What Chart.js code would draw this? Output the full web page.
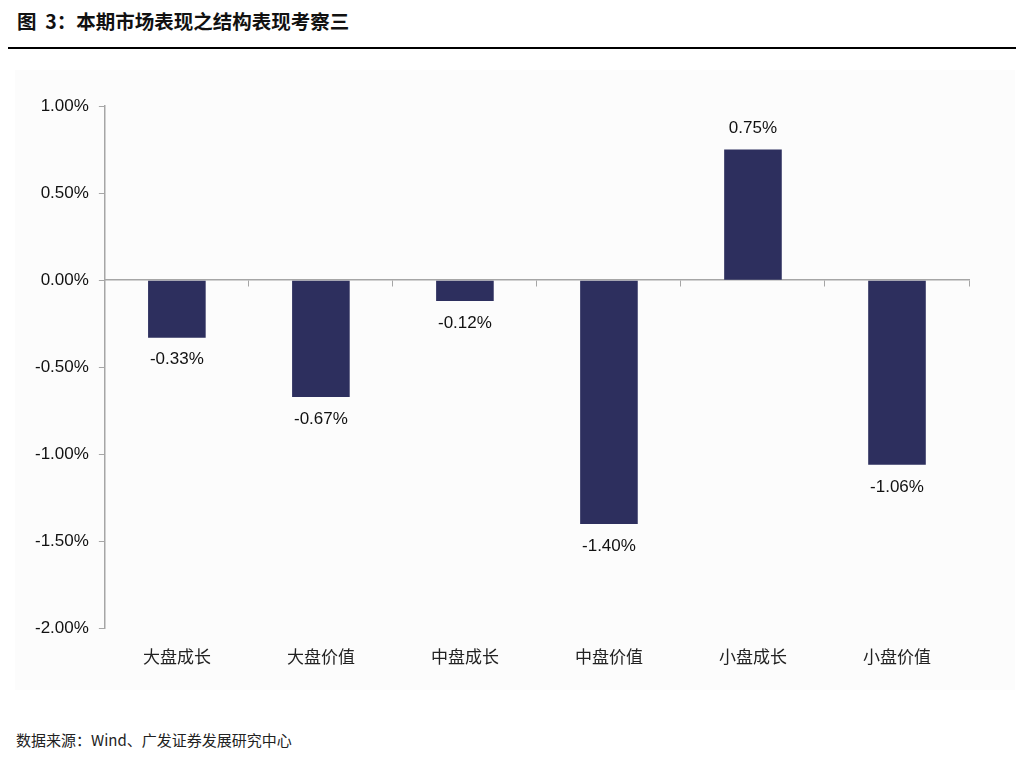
<!DOCTYPE html>
<html lang="zh-CN">
<head>
    <meta charset="UTF-8">
    <title>本期市场表现之结构表现考察三</title>
    <script src="https://cdn.jsdelivr.net/npm/chart.js"></script>
    <style>
        body {
            margin: 0;
            width: 1026px;
            height: 759px;
            background: #fff;
            font-family: "Liberation Sans", "Noto Sans CJK SC", sans-serif;
            position: relative;
            overflow: hidden;
        }
        #title {
            position: absolute;
            left: 17px;
            top: 6px;
            font-size: 19.5px;
            font-weight: bold;
            color: #111;
            font-family: "Noto Sans CJK SC", sans-serif;
        }
        #rule {
            position: absolute;
            left: 8px;
            top: 47px;
            width: 1008px;
            height: 2px;
            background: #000;
        }
        #panel {
            position: absolute;
            left: 15px;
            top: 70px;
            width: 1000px;
            height: 620px;
            background: #fcfcfc;
        }
        #box {
            position: absolute;
            left: 0;
            top: 60px;
            width: 1026px;
            height: 640px;
        }
        #source {
            position: absolute;
            left: 16px;
            top: 729px;
            font-size: 15px;
            color: #222;
            font-family: "Noto Sans CJK SC", sans-serif;
        }
    </style>
</head>
<body>
<div id="title">图&nbsp; 3：本期市场表现之结构表现考察三</div>
<div id="rule"></div>
<div id="panel"></div>
<div id="box"><canvas id="structChart"></canvas></div>
<div id="source">数据来源：Wind、广发证券发展研究中心</div>

<script>
// categories and returns (%)
const categories = ['大盘成长', '大盘价值', '中盘成长', '中盘价值', '小盘成长', '小盘价值'];
const returns = [-0.33, -0.67, -0.12, -1.40, 0.75, -1.06];
const yMin = -2.0;
const yMax = 1.0;
const yStep = 0.5;

const axisGrey = '#a6a6a6';
const fontFamily = '"Liberation Sans", "Noto Sans CJK SC", sans-serif';

// value labels above / below each bar
const barLabels = {
    id: 'barLabels',
    afterDatasetsDraw(chart) {
        const ctx = chart.ctx;
        const meta = chart.getDatasetMeta(0);
        ctx.save();
        ctx.font = '17px ' + fontFamily;
        ctx.fillStyle = '#111';
        ctx.textAlign = 'center';
        ctx.textBaseline = 'middle';
        meta.data.forEach(function (bar, i) {
            const v = returns[i];
            const y = v >= 0 ? bar.y - 21 : bar.y + 22;
            ctx.fillText(v.toFixed(2) + '%', bar.x, y);
        });
        ctx.restore();
    }
};

new Chart(document.getElementById('structChart'), {
    type: 'bar',
    data: {
        labels: categories,
        datasets: [{
            data: returns,
            backgroundColor: '#2d2f5e',
            barPercentage: 0.4,
            categoryPercentage: 1.0,
            xAxisID: 'x'
        }]
    },
    options: {
        responsive: true,
        maintainAspectRatio: false,
        animation: false,
        layout: {
            padding: { left: 25, right: 57, top: 46, bottom: 19 }
        },
        plugins: {
            legend: { display: false },
            tooltip: { enabled: false }
        },
        scales: {
            x: {
                position: 'bottom',
                offset: true,
                grid: { display: false },
                border: { display: false },
                ticks: {
                    color: '#222',
                    padding: 12,
                    font: { size: 17, family: fontFamily }
                }
            },
            x2: {
                type: 'category',
                labels: categories,
                position: { y: 0 },
                offset: true,
                grid: {
                    offset: true,
                    drawOnChartArea: false,
                    drawTicks: true,
                    tickLength: 6,
                    color: axisGrey
                },
                border: { color: axisGrey, width: 1.5 },
                ticks: { display: false }
            },
            y: {
                min: yMin,
                max: yMax,
                ticks: {
                    stepSize: yStep,
                    padding: 10,
                    color: '#111',
                    font: { size: 17, family: fontFamily },
                    callback: function (v) { return v.toFixed(2) + '%'; }
                },
                grid: {
                    drawOnChartArea: false,
                    drawTicks: true,
                    tickLength: 6,
                    color: axisGrey
                },
                border: { color: axisGrey, width: 1.5 }
            }
        }
    },
    plugins: [barLabels]
});
</script>
</body>
</html>
